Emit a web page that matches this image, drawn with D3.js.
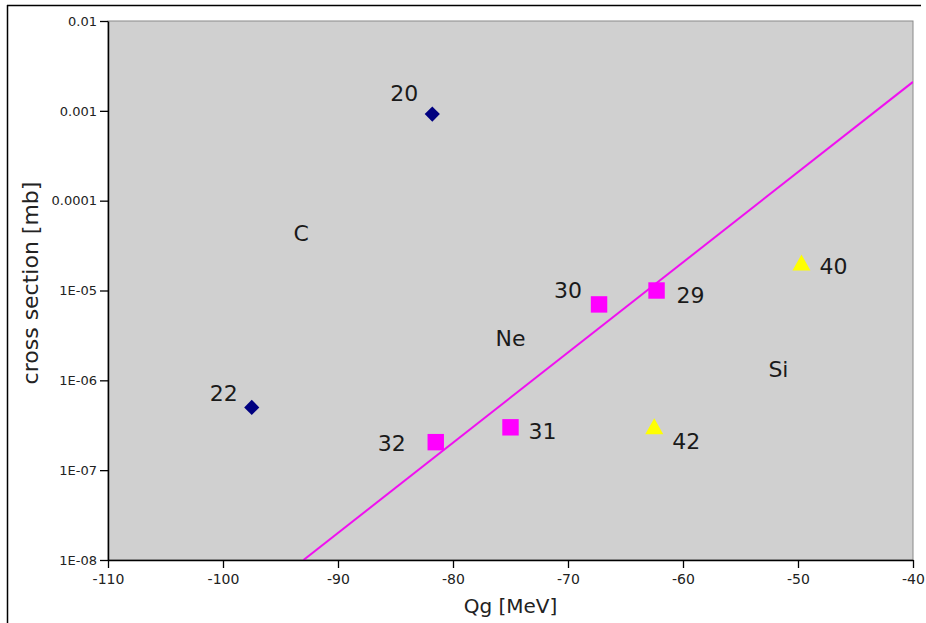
<!DOCTYPE html>
<html>
<head>
<meta charset="utf-8">
<script src="https://cdn.jsdelivr.net/npm/d3@7"></script>
<style>
  html, body { margin: 0; padding: 0; background: #fff; }
  svg { display: block; font-family: "DejaVu Sans", Verdana, sans-serif; }
</style>
</head>
<body>
<svg id="chart" width="926" height="623"></svg>
<script>
// Carbon-cluster channel (diamonds)
const cIds = ["20", "22"];
const cQg = [-81.8, -97.5];
const cSigma = [9.2e-4, 5e-7];

// Neon-cluster channel (squares)
const neIds = ["29", "30", "31", "32"];
const neQg = [-62.3, -67.3, -75.0, -81.5];
const neSigma = [1e-5, 7e-6, 3e-7, 2.05e-7];

// Silicon-cluster channel (triangles)
const siIds = ["40", "42"];
const siQg = [-49.7, -62.5];
const siSigma = [2e-5, 3e-7];

// Systematic trend line through the Ne points
const fitQg = [-93, -40];
const fitSigma = [1e-8, 2.1e-3];

// Group names placed in the plot
const groupNames = ["C", "Ne", "Si"];
const groupQg = [-93.2, -75.0, -51.7];
const groupSigma = [4.3e-5, 2.9e-6, 1.33e-6];

// Axis ticks
const xTicks = [-110, -100, -90, -80, -70, -60, -50, -40];
const yTicks = [1e-8, 1e-7, 1e-6, 1e-5, 1e-4, 1e-3, 1e-2];
const yTickLabels = ["1E-08", "1E-07", "1E-06", "1E-05", "0.0001", "0.001", "0.01"];

const svg = d3.select("#chart");
const m = { left: 108, top: 21, right: 913, bottom: 560 };

const x = d3.scaleLinear().domain([-110, -40]).range([m.left, m.right]);
const y = d3.scaleLog().domain([1e-8, 1e-2]).range([m.bottom, m.top]);

// outer frame
svg.append("line").attr("x1", 7).attr("y1", 5.5).attr("x2", 921).attr("y2", 5.5)
  .attr("stroke", "#000").attr("stroke-width", 1.5);
svg.append("line").attr("x1", 7.5).attr("y1", 5).attr("x2", 7.5).attr("y2", 623)
  .attr("stroke", "#000").attr("stroke-width", 1.5);

// plot area
svg.append("rect")
  .attr("x", m.left).attr("y", m.top)
  .attr("width", m.right - m.left).attr("height", m.bottom - m.top)
  .attr("fill", "#d0d0d0").attr("stroke", "#8a8a8a").attr("stroke-width", 1);

const plot = svg.append("g");
const clip = svg.append("clipPath").attr("id", "plotClip");
clip.append("rect").attr("x", m.left).attr("y", m.top)
  .attr("width", m.right - m.left).attr("height", m.bottom - m.top);

// trend line
plot.append("path")
  .attr("clip-path", "url(#plotClip)")
  .datum(fitQg.map((q, i) => [q, fitSigma[i]]))
  .attr("d", d3.line().x(d => x(d[0])).y(d => y(d[1])))
  .attr("fill", "none").attr("stroke", "#f010f0").attr("stroke-width", 2);

// axes
const xAxis = d3.axisBottom(x).tickValues(xTicks).tickSize(8).tickSizeOuter(0)
  .tickFormat(d => String(d));
const gx = svg.append("g").attr("transform", `translate(0,${m.bottom})`).call(xAxis);
gx.select(".domain").attr("stroke", "#000").attr("stroke-width", 1.5);
gx.selectAll(".tick line").attr("stroke", "#000").attr("stroke-width", 1.3);
gx.selectAll(".tick text").attr("font-size", 14).attr("fill", "#222")
  .attr("font-family", "DejaVu Sans").attr("dy", "0.9em");

const yAxis = d3.axisLeft(y).tickValues(yTicks).tickSize(8).tickSizeOuter(0)
  .tickFormat((d, i) => yTickLabels[i]);
const gy = svg.append("g").attr("transform", `translate(${m.left},0)`).call(yAxis);
gy.select(".domain").attr("stroke", "#000").attr("stroke-width", 1.5);
gy.selectAll(".tick line").attr("stroke", "#000").attr("stroke-width", 1.3);
gy.selectAll(".tick text").attr("font-size", 13).attr("fill", "#222")
  .attr("font-family", "DejaVu Sans").attr("x", -11);

// axis titles
svg.append("text").attr("x", (m.left + m.right) / 2).attr("y", 613)
  .attr("text-anchor", "middle").attr("font-size", 20).attr("fill", "#222")
  .text("Qg [MeV]");
svg.append("text")
  .attr("transform", `translate(38,283) rotate(-90)`)
  .attr("text-anchor", "middle").attr("font-size", 22).attr("fill", "#222")
  .text("cross section [mb]");

// markers
const diamond = d3.symbol().type(d3.symbolSquare).size(115);
plot.selectAll(".c").data(cQg.map((q, i) => ({ q, s: cSigma[i], id: cIds[i] })))
  .join("path")
  .attr("transform", d => `translate(${x(d.q)},${y(d.s)}) rotate(45)`)
  .attr("d", diamond).attr("fill", "#000080");

const sq = d3.symbol().type(d3.symbolSquare).size(270);
plot.selectAll(".ne").data(neQg.map((q, i) => ({ q, s: neSigma[i], id: neIds[i] })))
  .join("path")
  .attr("transform", d => `translate(${x(d.q)},${y(d.s)})`)
  .attr("d", sq).attr("fill", "#ff00ff");

plot.selectAll(".si").data(siQg.map((q, i) => ({ q, s: siSigma[i], id: siIds[i] })))
  .join("path")
  .attr("transform", d => `translate(${x(d.q)},${y(d.s)})`)
  .attr("d", "M0,-9L9,7L-9,7Z").attr("fill", "#ffff00");

// point labels (offsets from each marker)
const labelDx = { "20": -28, "22": -28, "32": -44, "31": 32, "30": -31, "29": 34, "40": 32, "42": 32 };
const labelDy = { "20": -21, "22": -14, "32": 1, "31": 4, "30": -14, "29": 5, "40": 3, "42": 14 };
const allPts = [
  ...cIds.map((id, i) => ({ id, q: cQg[i], s: cSigma[i] })),
  ...neIds.map((id, i) => ({ id, q: neQg[i], s: neSigma[i] })),
  ...siIds.map((id, i) => ({ id, q: siQg[i], s: siSigma[i] }))
];
plot.selectAll(".lbl").data(allPts).join("text")
  .attr("x", d => x(d.q) + labelDx[d.id])
  .attr("y", d => y(d.s) + labelDy[d.id])
  .attr("text-anchor", "middle").attr("dominant-baseline", "central")
  .attr("font-size", 22).attr("fill", "#1a1a1a")
  .text(d => d.id);

plot.selectAll(".grp").data(groupNames).join("text")
  .attr("x", (d, i) => x(groupQg[i]))
  .attr("y", (d, i) => y(groupSigma[i]))
  .attr("text-anchor", "middle").attr("dominant-baseline", "central")
  .attr("font-size", 22).attr("fill", "#1a1a1a")
  .text(d => d);
</script>
</body>
</html>
